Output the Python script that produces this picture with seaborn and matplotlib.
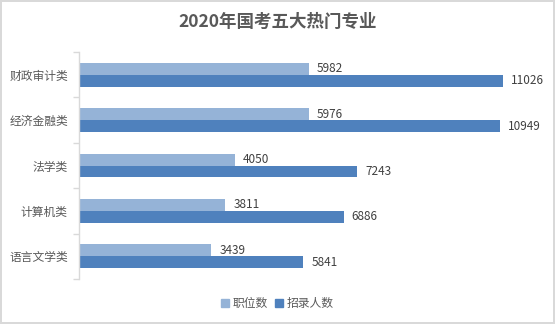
import matplotlib
matplotlib.use("Agg")
import matplotlib.pyplot as plt
import seaborn as sns
import pandas as pd
import numpy as np

categories = ["财政审计类", "经济金融类", "法学类", "计算机类", "语言文学类"]
positions = [5982, 5976, 4050, 3811, 3439]
recruits = [11026, 10949, 7243, 6886, 5841]
series_names = ["职位数", "招录人数"]
colors = ["#95B3D7", "#4F81BD"]

sns.set_theme(style="white")
plt.rcParams["font.family"] = ["Noto Sans CJK SC", "DejaVu Sans"]

df = pd.DataFrame({
    "类别": categories * 2,
    "数值": positions + recruits,
    "系列": [series_names[0]] * len(categories) + [series_names[1]] * len(categories),
})

fig = plt.figure(figsize=(5.55, 3.24), dpi=100)
fig.patch.set_edgecolor("#d9d9d9")
fig.patch.set_linewidth(1.5)
ax = fig.add_axes([79 / 555, 45 / 324, 461 / 555, 227 / 324])

sns.barplot(data=df, y="类别", x="数值", hue="系列", order=categories,
            hue_order=series_names, palette=colors, orient="h",
            width=0.52, gap=0, saturation=1, linewidth=0, ax=ax, legend=False)

ax.set_xlim(0, 12000)
ax.set_ylim(len(categories) - 0.5, -0.5)
ax.set_xlabel("")
ax.set_ylabel("")
ax.set_xticks([])

for spine in ["top", "right", "bottom"]:
    ax.spines[spine].set_visible(False)
ax.spines["left"].set_color("#d9d9d9")
ax.spines["left"].set_linewidth(1)

ax.set_yticks(range(len(categories)))
ax.set_yticklabels(categories, fontsize=8.5, color="#595959")
ax.tick_params(axis="y", which="major", length=0, pad=8)
ax.set_yticks(np.arange(-0.5, len(categories), 1.0), minor=True)
ax.tick_params(axis="y", which="minor", length=4, color="#d9d9d9", width=1, left=True)

for cont in ax.containers:
    ax.bar_label(cont, labels=[f"{int(v)}" for v in cont.datavalues],
                 padding=6, fontsize=8.5, color="#404040")

fig.text(0.5, 0.932, "2020年国考五大热门专业", ha="center", va="center",
         fontsize=12.6, fontweight="bold", color="#595959")

handles = [plt.Rectangle((0, 0), 1, 1, color=c) for c in colors]
fig.legend(handles, series_names, loc="center", bbox_to_anchor=(0.5, 0.062),
           ncol=2, frameon=False, fontsize=8.5, handlelength=0.7,
           handleheight=0.7, handletextpad=0.3, columnspacing=0.6,
           labelcolor="#595959")

fig.savefig("out.png", dpi=100)
